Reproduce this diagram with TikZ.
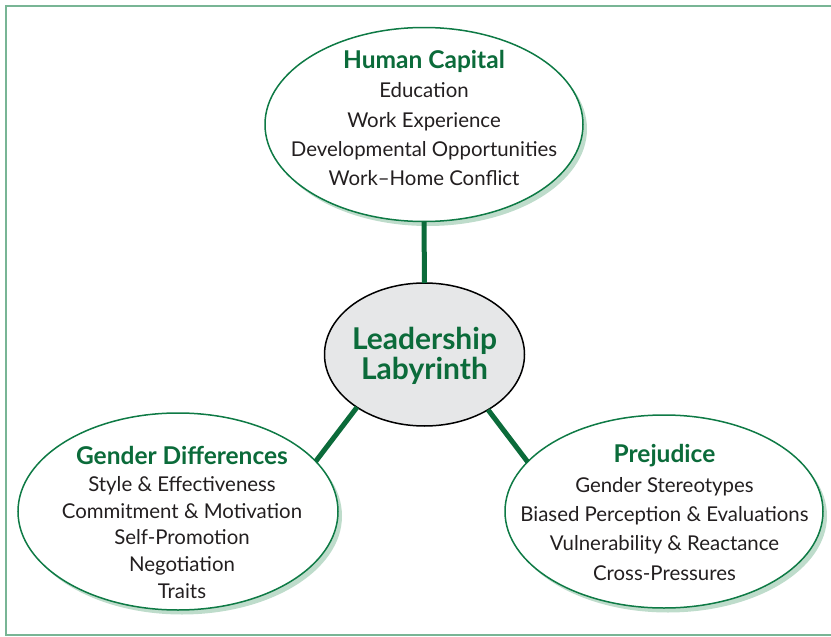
\documentclass[tikz,border=0pt]{standalone}
\usepackage{fontspec}
\setmainfont{Lato}
\usetikzlibrary{shapes.geometric}
\definecolor{dgreen}{HTML}{0B6B3A}
\definecolor{lgreen}{HTML}{0E7A45}
\definecolor{shadowgreen}{HTML}{BEDCCB}
\definecolor{framegreen}{HTML}{78B595}
\definecolor{centerfill}{HTML}{E6E7E8}
\definecolor{bodytext}{HTML}{231F20}
\tikzset{
  bubble/.style={ellipse, draw=lgreen, line width=1.5pt, fill=white, inner sep=0pt, outer sep=0pt},
  bubshadow/.style={ellipse, fill=shadowgreen, inner sep=0pt, outer sep=0pt},
  hub/.style={ellipse, draw=black, line width=1.5pt, fill=centerfill, inner sep=0pt, outer sep=0pt},
  txt/.style={align=center, text=bodytext, inner sep=0pt, font=\fontsize{20.4}{29.3}\selectfont},
  link/.style={draw=dgreen, line width=5pt}
}
\newcommand{\ttlfont}{\fontsize{24.5}{29.3}\selectfont\bfseries\color{dgreen}}
\begin{document}
\begin{tikzpicture}[x=1pt,y=-1pt]
\useasboundingbox (0,0) rectangle (831,637);
\draw[framegreen, line width=2pt] (831,6) -- (6,6) -- (6,635) -- (831,635);
% shadows
\node[bubshadow, minimum width=318pt, minimum height=194pt] (tops) at (428,129) {};
\node[bubshadow, minimum width=320pt, minimum height=197pt] (lefts) at (182,516) {};
\node[bubshadow, minimum width=318pt, minimum height=193pt] (rights) at (668,516) {};
% ellipses
\node[bubble, minimum width=318pt, minimum height=194pt] (top) at (424,124.5) {};
\node[bubble, minimum width=320pt, minimum height=197pt] (left) at (178,511.5) {};
\node[bubble, minimum width=318pt, minimum height=193pt] (right) at (664,511.5) {};
\node[hub, minimum width=200pt, minimum height=143pt] (hub) at (424.5,354.5) {};
% connectors
\draw[link] (top.south) -- (hub.north);
\draw[link] (hub.218) -- (left.20);
\draw[link] (hub.319) -- (right.160);
% texts
\node[txt] (toptext) at (424,118) {{\ttlfont Human Capital}\\Education\\Work Experience\\Developmental Opportunities\\Work--Home Conflict};
\node[txt, font=\fontsize{20.4}{26.8}\selectfont] (lefttext) at (182,522.5) {{\fontsize{24.5}{26.8}\selectfont\bfseries\color{dgreen}Gender Differences}\\Style \& Effectiveness\\Commitment \& Motivation\\Self-Promotion\\Negotiation\\Traits};
\node[txt] (righttext) at (664.5,512.5) {{\ttlfont Prejudice}\\Gender Stereotypes\\Biased Perception \& Evaluations\\Vulnerability \& Reactance\\Cross-Pressures};
\node[txt, text=dgreen, font=\fontsize{30}{30}\selectfont\bfseries] (hubtext) at (424.5,356) {Leadership\\Labyrinth};
\end{tikzpicture}
\end{document}
